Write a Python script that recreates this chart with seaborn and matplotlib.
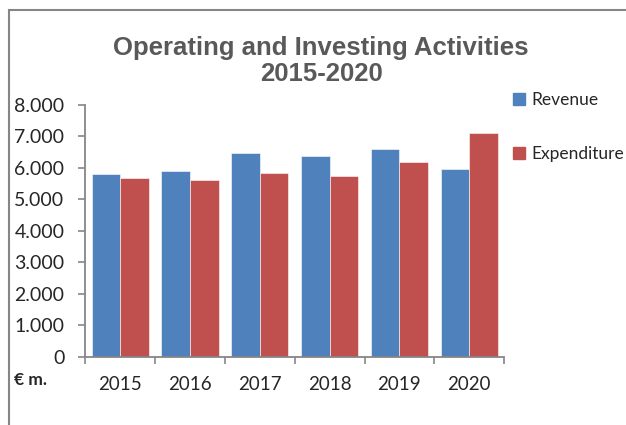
import matplotlib
matplotlib.use('Agg')
import matplotlib.pyplot as plt
import matplotlib.patches as mpatches
import pandas as pd
import seaborn as sns

years = ['2015', '2016', '2017', '2018', '2019', '2020']
revenue = [5810, 5910, 6470, 6370, 6590, 5960]
expenditure = [5690, 5610, 5830, 5735, 6180, 7100]
series = ['Revenue', 'Expenditure']
colors = ['#4F81BD', '#C0504D']
yticks = [0, 1000, 2000, 3000, 4000, 5000, 6000, 7000, 8000]


def thousands(v, pos):
    return '{:,.0f}'.format(v).replace(',', '.')


if __name__ == '__main__':
    sns.set_style('white')
    plt.rcParams['font.family'] = ['Lato', 'DejaVu Sans']

    df = pd.DataFrame({
        'year': years * 2,
        'value': revenue + expenditure,
        'series': ['Revenue'] * len(years) + ['Expenditure'] * len(years),
    })

    fig = plt.figure(figsize=(6.26, 4.25), dpi=100)
    ax = fig.add_axes([0.1363, 0.16, 0.669, 0.593])

    sns.barplot(data=df, x='year', y='value', hue='series', hue_order=series,
                palette=colors, width=0.82, gap=0, saturation=1,
                edgecolor='white', linewidth=0.4, legend=False, ax=ax)

    ax.set_xlim(-0.5, 5.5)
    ax.set_ylim(0, 8000)
    ax.set_yticks(yticks)
    ax.yaxis.set_major_formatter(plt.FuncFormatter(thousands))
    ax.set_xlabel('')
    ax.set_ylabel('')

    # category boundaries get the tick marks, labels sit in the middle
    ax.set_xticks([i - 0.5 for i in range(len(years) + 1)], minor=True)
    ax.tick_params(axis='x', which='major', length=0, pad=14, labelsize=13.5)
    ax.tick_params(axis='x', which='minor', length=5, width=1.2,
                   color='#868686', direction='out', bottom=True)
    ax.tick_params(axis='y', which='major', length=5, width=1.2,
                   color='#868686', direction='out', left=True, pad=10,
                   labelsize=14)

    for s in ['top', 'right']:
        ax.spines[s].set_visible(False)
    for s in ['left', 'bottom']:
        ax.spines[s].set_color('#868686')
        ax.spines[s].set_linewidth(1.3)

    fig.text(0.513, 0.857, 'Operating and Investing Activities\n2015-2020',
             ha='center', va='center', fontsize=18.5, fontweight='bold',
             color='#595959', family=['Liberation Sans', 'DejaVu Sans'],
             linespacing=1.08)

    fig.text(0.022, 0.105, '€ m.', fontsize=12.5, fontweight='bold',
             ha='left', va='center')

    handles = [mpatches.Patch(color=c, label=l) for c, l in zip(colors, series)]
    fig.legend(handles=handles, loc='upper left', bbox_to_anchor=(0.795, 0.82),
               frameon=False, fontsize=12.5, labelspacing=2.2,
               handlelength=0.7, handleheight=0.7, handletextpad=0.35)

    # chart border (only top and left edges visible in the crop)
    fig.add_artist(mpatches.Rectangle((9 / 626, -0.1), 1.2, 1.1 - 9.5 / 425,
                                      transform=fig.transFigure, fill=False,
                                      edgecolor='#868686', linewidth=1.5))

    fig.savefig('out.png', dpi=100)
